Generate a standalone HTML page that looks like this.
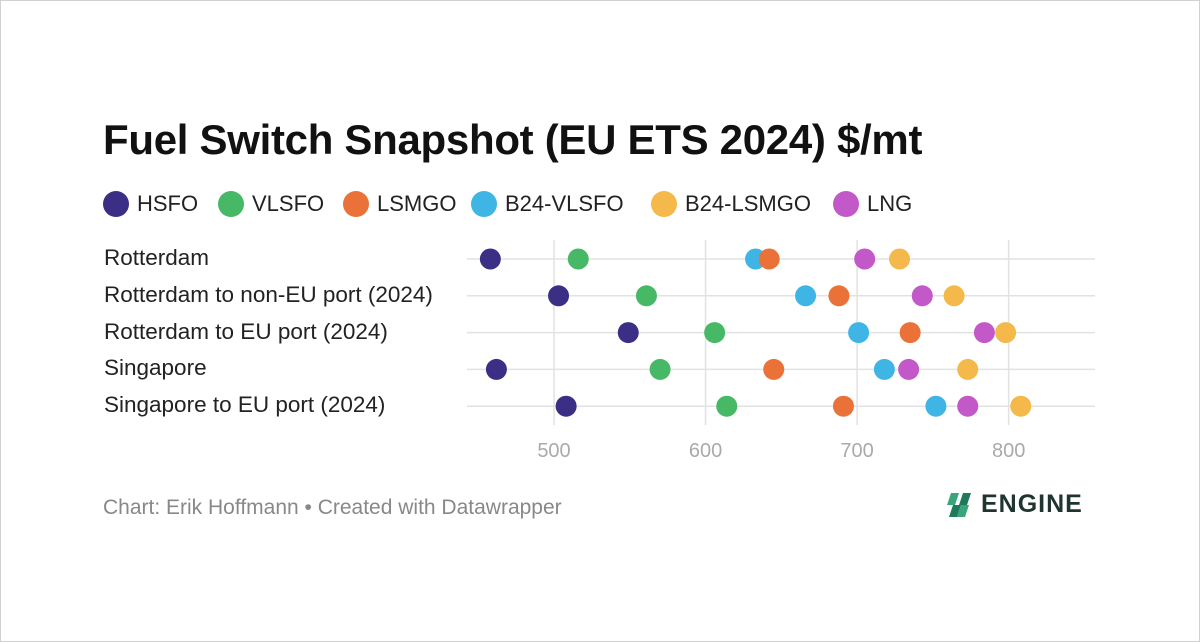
<!DOCTYPE html>
<html><head><meta charset="utf-8"><style>
body{margin:0;width:1200px;height:642px;background:#fff;font-family:"Liberation Sans",sans-serif;overflow:hidden}
#frame{position:absolute;left:0;top:0;width:1198px;height:640px;border:1px solid #d0d0d0}
h1{position:absolute;left:103px;top:116px;margin:0;font-size:42px;font-weight:bold;color:#111;letter-spacing:-0.3px}
.leg{position:absolute;top:191px;display:flex;align-items:center;font-size:22px;color:#222}
.leg i{display:inline-block;width:26px;height:26px;border-radius:50%;margin-right:8px}
.rl{position:absolute;left:104px;font-size:22.5px;color:#222}
#foot{position:absolute;left:103px;top:496px;font-size:21px;color:#888}
#logo{position:absolute;left:945px;top:490px;font-size:25px;font-weight:bold;color:#1e3530;letter-spacing:1px;display:flex;align-items:center}
</style></head><body>
<div id="frame"></div>
<h1>Fuel Switch Snapshot (EU ETS 2024) $/mt</h1>
<div id="legend"></div>
<div id="rows"></div>
<svg id="chart" width="1200" height="642" style="position:absolute;left:0;top:0"></svg>
<div id="foot">Chart: Erik Hoffmann • Created with Datawrapper</div>
<div id="logo"><svg width="30" height="28" viewBox="0 0 30 28"><polygon points="6,2 14,2 10,14 2,14" fill="#3aa57a"/><polygon points="18,2 26,2 22,14 14,14" fill="#1e7a5a"/><polygon points="8,14 16,14 12,26 4,26" fill="#1e7a5a"/><polygon points="16,14 24,14 20,26 12,26" fill="#3aa57a"/></svg><span style="margin-left:6px">ENGINE</span></div>
<script>
const categories=["Rotterdam","Rotterdam to non-EU port (2024)","Rotterdam to EU port (2024)","Singapore","Singapore to EU port (2024)"];
const seriesNames=["HSFO","VLSFO","LSMGO","B24-VLSFO","B24-LSMGO","LNG"];
const seriesColors=["#3a2f85","#46b866","#ea7137","#3fb5e5","#f5b84a","#c358c9"];
const HSFO=[458,503,549,462,508];
const VLSFO=[516,561,606,570,614];
const LSMGO=[642,688,735,645,691];
const B24VLSFO=[633,666,701,718,752];
const B24LSMGO=[728,764,798,773,808];
const LNG=[705,743,784,734,773];
const xTicks=[500,600,700,800];
const series=[HSFO,VLSFO,LSMGO,B24VLSFO,B24LSMGO,LNG];
const drawOrder=[0,1,3,2,5,4];
const NS="http://www.w3.org/2000/svg";
const svg=document.getElementById('chart');
const x=v=>554+(v-500)*1.5155;
const y=i=>259+i*36.8;
function mk(t,a){const e=document.createElementNS(NS,t);for(const k in a)e.setAttribute(k,a[k]);svg.appendChild(e);return e;}
xTicks.forEach(t=>{
 const l=mk('line',{x1:x(t),x2:x(t),y1:240,y2:425,stroke:'#e2e2e2','stroke-width':1.5});
 
 
 const tx=mk('text',{x:x(t),y:457,'text-anchor':'middle','font-size':20,fill:'#aaa','font-family':'Liberation Sans, sans-serif'});
 tx.textContent=t;
 
 
});
categories.forEach((c,i)=>{
 const l=mk('line',{x1:467,x2:1095,y1:y(i),y2:y(i),stroke:'#e2e2e2','stroke-width':1.5});
 
 
 const d=document.createElement('div');d.className='rl';d.style.top=(y(i)-14)+'px';d.textContent=c;
 
 
 document.getElementById('rows').appendChild(d);
});
drawOrder.forEach(s=>{
 series[s].forEach((v,i)=>{
  const c=mk('circle',{cx:x(v),cy:y(i),r:10.5,fill:seriesColors[s]});
  
  
 });
});
const legX=[103,218,343,471,651,833];
seriesNames.forEach((n,i)=>{
 const d=document.createElement('div');d.className='leg';d.style.left=legX[i]+'px';
 d.innerHTML='<i style="background:'+seriesColors[i]+'"></i>'+n;
 
 
 document.getElementById('legend').appendChild(d);
});
</script>
</body></html>
